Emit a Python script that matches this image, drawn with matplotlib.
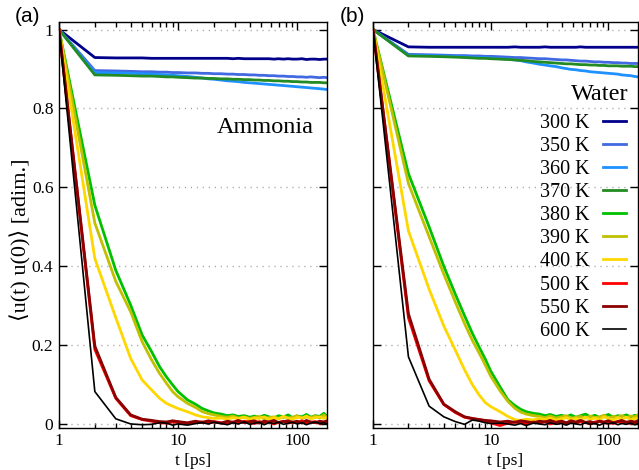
import matplotlib

matplotlib.use("Agg")
import matplotlib.pyplot as plt
from matplotlib.ticker import FixedLocator, LogLocator, NullFormatter

# time axis shared by every curve [ps]
t = [1, 2, 3, 4, 5, 6, 7, 8, 9, 10, 12, 14, 16, 18, 20, 23, 26, 29, 32, 36,
     40, 44, 48, 53, 58, 64, 70, 77, 84, 92, 100, 110, 120, 130, 142, 155, 168, 178]

temps = ["300 K", "350 K", "360 K", "370 K", "380 K",
         "390 K", "400 K", "500 K", "550 K", "600 K"]
colors = ["#00008b", "#4169e1", "#1e90ff", "#228b22", "#00c000",
          "#c0c000", "#ffd700", "#ff0000", "#8b0000", "#000000"]

# (a) ammonia
ammonia_300 = [1.0, .929, .928, .928, .928, .927, .927, .927, .927, .927, .927, .927, .927, .927, .927, .927, .927, .926, .927,
               .926, .926, .926, .926, .926, .926, .925, .926, .925, .926, .925, .925, .926, .924, .925, .925, .924, .925, .925]
ammonia_350 = [1.0, .896, .895, .894, .893, .893, .892, .892, .891, .891, .890, .890, .889, .889, .888, .888, .887, .887, .886,
               .886, .885, .885, .884, .884, .883, .883, .882, .882, .881, .881, .880, .880, .879, .880, .879, .878, .879, .878]
ammonia_360 = [1.0, .891, .890, .889, .888, .887, .886, .885, .884, .883, .881, .879, .877, .875, .874, .872, .870, .869, .868,
               .866, .865, .864, .863, .862, .861, .860, .859, .858, .857, .856, .855, .854, .853, .852, .851, .850, .849, .848]
ammonia_370 = [1.0, .885, .884, .883, .882, .882, .881, .880, .880, .879, .878, .877, .877, .876, .876, .875, .875, .874, .874,
               .873, .873, .872, .872, .871, .871, .870, .870, .869, .869, .868, .868, .867, .867, .866, .866, .866, .865, .865]
ammonia_380 = [1.0, .555, .390, .302, .226, .184, .146, .120, .100, .083, .062, .051, .040, .034, .029, .026, .022, .024, .020,
               .022, .018, .021, .017, .023, .019, .016, .022, .018, .024, .017, .021, .019, .025, .018, .022, .020, .028, .021]
ammonia_390 = [1.0, .510, .362, .285, .209, .163, .129, .104, .083, .070, .053, .043, .032, .027, .024, .020, .018, .021, .016,
               .019, .015, .018, .020, .014, .017, .019, .015, .020, .016, .018, .022, .015, .019, .017, .021, .016, .024, .018]
ammonia_400 = [1.0, .420, .270, .167, .112, .087, .066, .053, .046, .040, .032, .024, .019, .017, .015, .016, .013, .017, .014,
               .018, .012, .016, .015, .019, .013, .017, .014, .020, .015, .013, .018, .016, .021, .014, .017, .019, .015, .018]
ammonia_500 = [1.0, .190, .066, .022, .012, .008, .004, .003, .006, .005, .002, .004, .006, .003, .007, .004, .002, .006, .003,
               .008, .005, .002, .007, .004, .006, .001, .005, .008, .003, .006, .004, .009, .003, .005, .007, .002, .006, .004]
ammonia_550 = [1.0, .198, .068, .024, .013, .010, .007, .006, .009, .007, .004, .008, .005, .009, .006, .003, .008, .005, .010,
               .004, .007, .009, .003, .008, .006, .010, .004, .007, .009, .005, .008, .003, .010, .006, .004, .008, .006, .009]
ammonia_600 = [1.0, .083, .014, .001, -.001, .000, .004, .003, -.002, .001, -.002, .002, .004, .001, .005, .002, -.001, .004, .001,
               .006, .000, .003, .005, -.001, .004, .002, .006, .000, .003, .005, .001, .004, -.001, .003, .006, .002, .004, .001]

# (b) water
water_300 = [1.0, .956, .955, .955, .955, .955, .955, .955, .955, .955, .955, .955, .956, .955, .955, .955, .955, .956, .955,
             .955, .955, .955, .955, .955, .956, .955, .955, .955, .955, .955, .955, .955, .955, .955, .955, .955, .955, .955]
water_350 = [1.0, .937, .936, .935, .934, .934, .933, .933, .932, .932, .931, .930, .929, .929, .928, .927, .926, .926, .925,
             .924, .923, .923, .922, .921, .920, .920, .919, .918, .918, .917, .917, .916, .916, .915, .915, .914, .914, .914]
water_360 = [1.0, .935, .934, .933, .932, .931, .930, .929, .929, .928, .926, .925, .923, .921, .918, .915, .912, .910, .908,
             .906, .903, .901, .899, .898, .896, .895, .893, .892, .891, .890, .889, .888, .887, .885, .884, .883, .881, .880]
water_370 = [1.0, .933, .932, .931, .930, .929, .928, .927, .927, .926, .925, .924, .923, .922, .921, .919, .918, .917, .916,
             .915, .914, .913, .913, .912, .911, .911, .910, .910, .909, .909, .908, .908, .908, .907, .907, .907, .906, .906]
water_380 = [1.0, .635, .500, .400, .330, .275, .230, .195, .165, .135, .095, .062, .048, .038, .032, .028, .026, .022, .025,
             .020, .023, .019, .024, .018, .022, .026, .019, .023, .017, .021, .025, .018, .022, .020, .024, .019, .023, .020]
water_390 = [1.0, .610, .475, .380, .310, .255, .212, .180, .150, .122, .085, .058, .041, .031, .026, .022, .020, .017, .021,
             .016, .019, .022, .015, .018, .020, .016, .021, .017, .019, .023, .016, .020, .018, .022, .017, .021, .019, .024]
water_400 = [1.0, .490, .342, .249, .188, .138, .100, .074, .055, .045, .032, .020, .012, .010, .013, .011, .015, .012, .016,
             .010, .014, .017, .012, .015, .011, .018, .013, .016, .012, .019, .014, .011, .017, .013, .018, .012, .015, .016]
water_500 = [1.0, .270, .110, .050, .030, .018, .014, .012, .009, .004, -.003, .003, .006, .004, .002, .006, .003, .007, .001,
             .005, .008, .002, .006, .003, .007, .004, .001, .006, .008, .003, .005, .002, .007, .004, .006, .002, .005, .003]
water_550 = [1.0, .280, .114, .051, .032, .019, .015, .012, .010, .009, .006, .008, .005, .009, .007, .004, .008, .006, .010,
             .005, .008, .004, .009, .006, .010, .005, .007, .003, .008, .006, .009, .004, .007, .010, .005, .008, .006, .009]
water_600 = [1.0, .171, .046, .019, .007, .000, .011, .008, .004, .002, .003, .001, -.002, .002, -.003, .003, .001, -.001, .004,
             .000, .002, -.002, .003, .001, -.001, .004, .000, .002, -.002, .003, .001, .004, -.001, .002, .000, .003, -.001, .002]

ammonia = [ammonia_300, ammonia_350, ammonia_360, ammonia_370, ammonia_380,
           ammonia_390, ammonia_400, ammonia_500, ammonia_550, ammonia_600]
water = [water_300, water_350, water_360, water_370, water_380,
         water_390, water_400, water_500, water_550, water_600]

yticks = [0, 0.2, 0.4, 0.6, 0.8, 1]
ytick_labels = ["0", "0.2", "0.4", "0.6", "0.8", "1"]
xticks = [1, 10, 100]
xtick_labels = ["1", "10", "100"]

SERIF = ["Liberation Serif", "DejaVu Serif", "DejaVu Sans"]


def style(ax, show_ylabels):
    ax.set_xscale("log")
    ax.set_xlim(1, 178.5)
    ax.set_ylim(-0.008, 1.019)

    ax.xaxis.set_major_locator(FixedLocator(xticks))
    ax.set_xticklabels(xtick_labels)
    ax.xaxis.set_minor_locator(LogLocator(base=10, subs=range(2, 10)))
    ax.xaxis.set_minor_formatter(NullFormatter())
    ax.set_yticks(yticks)
    ax.set_yticklabels(ytick_labels if show_ylabels else [])

    ax.tick_params(which="both", direction="in", top=True, right=True, width=1.0)
    ax.tick_params(which="major", length=6, pad=4, labelsize=12.5)
    ax.tick_params(which="minor", length=3.5)
    for lab in ax.get_xticklabels() + ax.get_yticklabels():
        lab.set_family(SERIF)

    ax.grid(axis="y", which="major", color="#a0a0a0", linestyle=(0, (0.8, 3.5)), linewidth=1.0)
    ax.set_axisbelow(True)
    for sp in ax.spines.values():
        sp.set_linewidth(1.0)

    ax.set_xlabel("t [ps]", family=SERIF, fontsize=12.5, labelpad=3)


def draw(ax, series):
    for label, color, y in zip(temps, colors, series):
        lw = 1.2 if color == "#000000" else 2.0
        ax.plot(t, y, color=color, linewidth=lw, label=label)


def plot() -> plt.Figure:
    fig = plt.figure(figsize=(6.39, 4.70), dpi=100)
    ax_a = fig.add_axes([59 / 639, 1 - 427.5 / 470, 268 / 639, 405.5 / 470])
    ax_b = fig.add_axes([373 / 639, 1 - 427.5 / 470, 265 / 639, 405.5 / 470])

    draw(ax_a, ammonia)
    draw(ax_b, water)
    style(ax_a, True)
    style(ax_b, False)

    ax_a.set_ylabel("\u27e8u(t) u(0)\u27e9 [adim.]", family=SERIF, fontsize=16)
    ax_a.yaxis.set_label_coords(-0.104, 0.462)

    ax_a.text(0.949, 0.741, "Ammonia", transform=ax_a.transAxes, ha="right", va="center",
              family=SERIF, fontsize=17.5)
    ax_b.text(0.963, 0.82, "Water", transform=ax_b.transAxes, ha="right", va="center",
              family=SERIF, fontsize=17.5)

    ax_b.legend(loc="upper right", bbox_to_anchor=(0.955, 0.774), frameon=False,
                markerfirst=False, prop={"family": SERIF, "size": 14.5},
                handlelength=1.15, handletextpad=0.65, labelspacing=0.2,
                borderpad=0, borderaxespad=0)

    fig.text(15 / 639, 1 - 17 / 470, "(a)", family="Liberation Sans", fontsize=15, va="center")
    fig.text(340 / 639, 1 - 17 / 470, "(b)", family="Liberation Sans", fontsize=15, va="center")

    return fig


def main():
    fig = plot()
    fig.savefig("out.png", dpi=100)


if __name__ == "__main__":
    main()
